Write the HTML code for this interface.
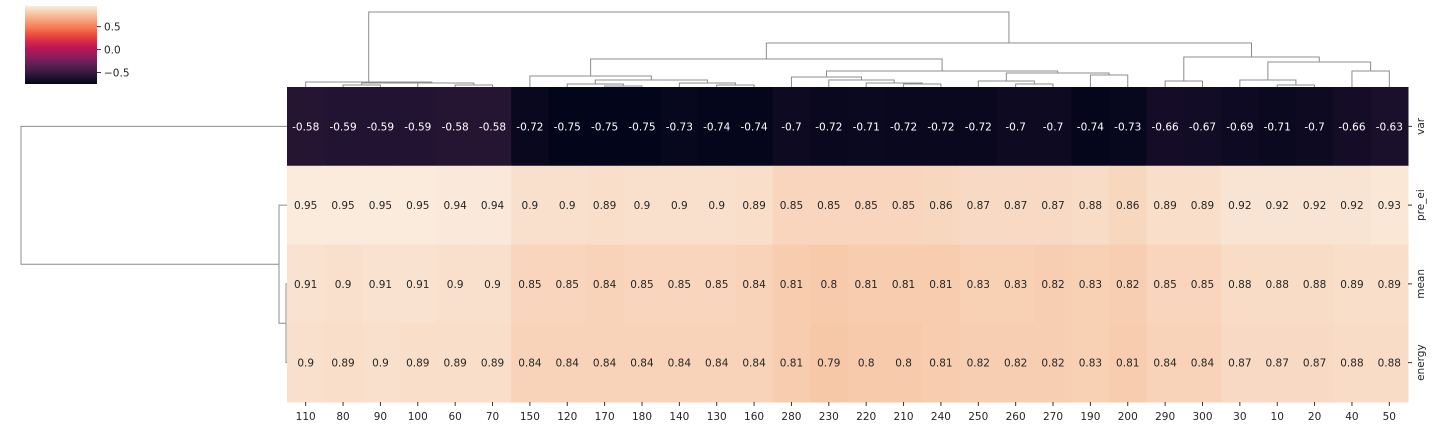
<!DOCTYPE html>
<html><head><meta charset="utf-8"><style>
body{margin:0;background:#fff;}
svg{display:block;font-family:"DejaVu Sans","Liberation Sans",sans-serif;}
</style></head>
<body>
<svg id="chart" width="1432" height="426" viewBox="0 0 1432 426"></svg>
<script>
const cols=["110","80","90","100","60","70","150","120","170","180","140","130","160","280","230","220","210","240","250","260","270","190","200","290","300","30","10","20","40","50"];
const rows=["var","pre_ei","mean","energy"];
const rowVar=[-0.58,-0.59,-0.59,-0.59,-0.58,-0.58,-0.72,-0.75,-0.75,-0.75,-0.73,-0.74,-0.74,-0.7,-0.72,-0.71,-0.72,-0.72,-0.72,-0.7,-0.7,-0.74,-0.73,-0.66,-0.67,-0.69,-0.71,-0.7,-0.66,-0.63];
const rowPre=[0.95,0.95,0.95,0.95,0.94,0.94,0.9,0.9,0.89,0.9,0.9,0.9,0.89,0.85,0.85,0.85,0.85,0.86,0.87,0.87,0.87,0.88,0.86,0.89,0.89,0.92,0.92,0.92,0.92,0.93];
const rowMean=[0.91,0.9,0.91,0.91,0.9,0.9,0.85,0.85,0.84,0.85,0.85,0.85,0.84,0.81,0.8,0.81,0.81,0.81,0.83,0.83,0.82,0.83,0.82,0.85,0.85,0.88,0.88,0.88,0.89,0.89];
const rowEnergy=[0.9,0.89,0.9,0.89,0.89,0.89,0.84,0.84,0.84,0.84,0.84,0.84,0.84,0.81,0.79,0.8,0.8,0.81,0.82,0.82,0.82,0.83,0.81,0.84,0.84,0.87,0.87,0.87,0.88,0.88];
const values=[rowVar,rowPre,rowMean,rowEnergy];
const vmin=-0.75, vmax=0.95;
const cbTicks=[0.5,0.0,-0.5];
const cbLabels=["0.5","0.0","\u22120.5"];

const NS="http://www.w3.org/2000/svg";
const svg=document.getElementById('chart');
function mk(t,a,p){const e=document.createElementNS(NS,t);for(const k in a)e.setAttribute(k,a[k]);(p||svg).appendChild(e);return e;}
const stops=["#03051A","#221331","#451C47","#6A1F56","#921C5B","#B91657","#D92847","#ED503E","#F47D57","#F6A47C","#F7C9AA","#FAEBDD"];
function hex(h){return [1,3,5].map(i=>parseInt(h.substr(i,2),16));}
function cmap(t){t=Math.max(0,Math.min(1,t));const s=t*(stops.length-1);const i=Math.min(stops.length-2,Math.floor(s));const f=s-i;const a=hex(stops[i]),b=hex(stops[i+1]);return `rgb(${a.map((v,k)=>Math.round(v+(b[k]-v)*f)).join(',')})`;}
const X0=287,X1=1408,Y0=87,Y1=402;
const cw=(X1-X0)/cols.length, rh=(Y1-Y0)/rows.length;
const xS=i=>X0+cw*i, yS=j=>Y0+rh*j;
const cx=i=>X0+cw*(i+0.5), cy=j=>Y0+rh*(j+0.5);

// heatmap
const hm=mk('g',{});


values.forEach((r,j)=>r.forEach((v,i)=>{
  const t=(v-vmin)/(vmax-vmin);
  const c=mk('rect',{x:xS(i),y:yS(j),width:cw+0.5,height:rh+0.5,fill:cmap(t)},hm);
  
  
  const tx=mk('text',{x:cx(i),y:cy(j)+4,'text-anchor':'middle','font-size':'10.5',fill:t<0.5?'#fff':'#262626'},hm);
  tx.textContent=String(v).replace('-','-');
  
  
}));
// x ticks
cols.forEach((c,i)=>{
  mk('line',{x1:cx(i),x2:cx(i),y1:Y1,y2:Y1+4,stroke:'#333','stroke-width':1});
  const t=mk('text',{x:cx(i),y:420,'text-anchor':'middle','font-size':'10.5',fill:'#262626'});
  t.textContent=c;
  
  
});
rows.forEach((r,j)=>{
  mk('line',{x1:X1,x2:X1+4,y1:cy(j),y2:cy(j),stroke:'#333','stroke-width':1});
  const t=mk('text',{x:1424,y:cy(j),'text-anchor':'middle','font-size':'10.5',fill:'#262626',transform:`rotate(-90 1424 ${cy(j)})`});
  t.textContent=r;
  
  
});

// dendrograms
const dg=mk('g',{stroke:'#8c8c8c','stroke-width':1,fill:'none'});


// node: number (leaf col index) or [left,right,mergeY]
function draw(n){
  if(typeof n==='number') return {x:cx(n),y:Y0};
  const a=draw(n[0]),b=draw(n[1]),h=n[2];
  mk('path',{d:`M${a.x},${a.y}V${h}H${b.x}V${b.y}`},dg);
  return {x:(a.x+b.x)/2,y:h};
}
const leftG=[0,[[[1,2,85],3,83],[4,5,85],83],82];
const gA=[6,[[7,[8,9,86],84],[10,[11,12,85],83],80],76];
const gB=[[13,[14,[15,[16,17,84],83],80],77],[[18,[19,20,84],81],[21,22,75],73],71];
const gR=[[23,24,81],[[25,[26,27,85],80],[28,29,71],62],57];
draw([leftG,[[gA,gB,59],gR,43],12]);

const dl=mk('g',{stroke:'#8c8c8c','stroke-width':1,fill:'none'});


function drawR(n){
  if(typeof n==='number') return {x:X0,y:cy(n)};
  const a=drawR(n[0]),b=drawR(n[1]),h=n[2];
  mk('path',{d:`M${a.x},${a.y}H${h}V${b.y}H${b.x}`},dl);
  return {x:h,y:(a.y+b.y)/2};
}
drawR([0,[1,[2,3,286],279],21]);

// colorbar
const cb=mk('g',{});


const defs=mk('defs',{});
const lg=mk('linearGradient',{id:'cbg',x1:0,y1:1,x2:0,y2:0},defs);
stops.forEach((s,i)=>mk('stop',{offset:i/(stops.length-1),'stop-color':s},lg));
const CB={x:25,y:6,w:72,h:78};
mk('rect',{x:CB.x,y:CB.y,width:CB.w,height:CB.h,fill:'url(#cbg)'},cb);
const cbY=v=>CB.y+CB.h*(vmax-v)/(vmax-vmin);
cbTicks.forEach((v,i)=>{
  mk('line',{x1:CB.x+CB.w,x2:CB.x+CB.w+4,y1:cbY(v),y2:cbY(v),stroke:'#333'},cb);
  const t=mk('text',{x:CB.x+CB.w+7,y:cbY(v)+4,'font-size':'10.5',fill:'#262626'},cb);
  t.textContent=cbLabels[i];
  
  
});
</script>
</body></html>
